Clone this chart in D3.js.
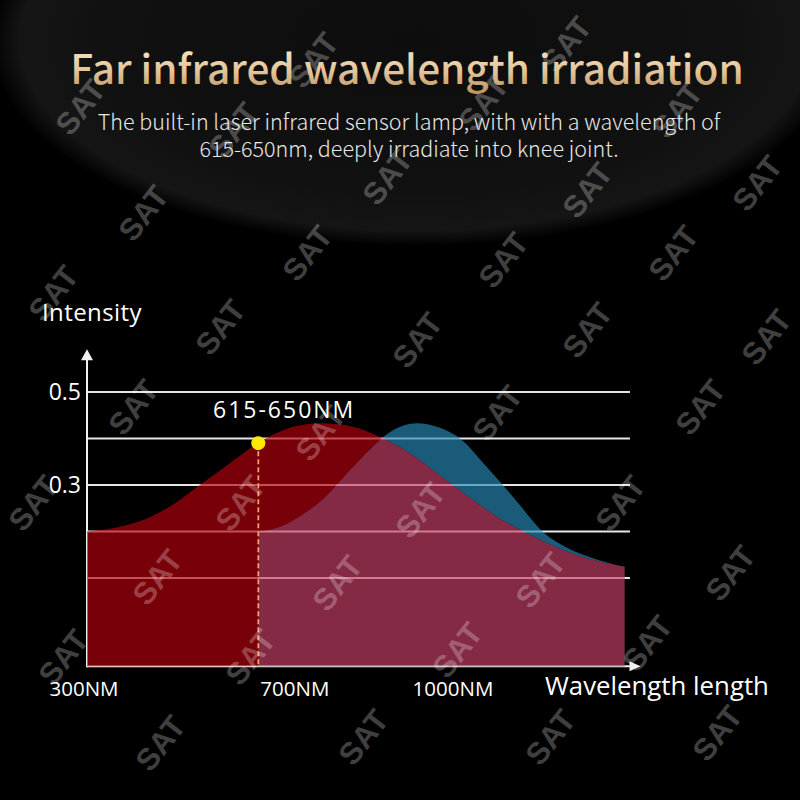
<!DOCTYPE html>
<html><head><meta charset="utf-8">
<script src="https://cdn.jsdelivr.net/npm/d3@7"></script>
<style>html,body{margin:0;padding:0;background:#000;} svg{display:block;}</style>
</head><body>
<script>
// ---- data ----
const redWavelengths = [300, 362, 420, 467, 514, 571, 624, 685, 742, 799, 856, 913, 970, 1027, 1083, 1146, 1211, 1273, 1320];
const redIntensity   = [0.200, 0.210, 0.231, 0.261, 0.300, 0.347, 0.390, 0.423, 0.433, 0.427, 0.403, 0.368, 0.320, 0.272, 0.228, 0.190, 0.157, 0.135, 0.125];
const blueWavelengths = [625, 666, 704, 752, 799, 837, 875, 926, 970, 1011, 1055, 1089, 1121, 1165, 1211, 1264, 1320];
const blueIntensity   = [0.199, 0.210, 0.233, 0.274, 0.332, 0.377, 0.414, 0.433, 0.423, 0.397, 0.343, 0.300, 0.257, 0.199, 0.165, 0.141, 0.124];
const gridValues = [0.1, 0.2, 0.3, 0.4, 0.5];
const yTickValues = [0.5, 0.3];
const yTickLabels = ["0.5", "0.3"];
const xTickValues = [300, 700, 1000];
const xTickLabels = ["300NM", "700NM", "1000NM"];
const markerWavelength = 625;
const markerIntensity = 0.390;
const markerLabel = "615-650NM";
const titleText = "Far infrared wavelength irradiation";
const subtitleLines = ["The built-in laser infrared sensor lamp, with with a wavelength of", "615-650nm, deeply irradiate into knee joint."];
const yAxisTitle = "Intensity";
const xAxisTitle = "Wavelength length";
const watermarkText = "SAT";
const watermarkCenters = [
  [566,44],[313,60],[80,107],[233,130],[483,103],[677,110],
  [387,177],[587,190],[757,183],
  [143,213],[307,253],[503,260],[673,253],
  [53,293],[220,327],[417,340],[587,330],[766,337],
  [133,407],[320,433],[497,413],[700,407],
  [33,503],[240,503],[420,510],[620,503],
  [157,577],[337,583],[540,580],[730,573],
  [63,657],[250,657],[457,650],[647,643],
  [160,743],[363,737],[550,737],[717,733]
];

// ---- layout ----
const W = 800, H = 800;
const x = d3.scaleLinear().domain([300, 1000]).range([87, 456]);
const y = d3.scaleLinear().domain([0.3, 0.5]).range([485, 392]);
const yBase = -0.09, yTop = 0.592, xEnd = 1350, gridEnd = 1330;

const svg = d3.select("body").append("svg").attr("width", W).attr("height", H);
const defs = svg.append("defs");

// background
svg.append("rect").attr("width", W).attr("height", H).attr("fill", "#000");
const rg = defs.append("radialGradient").attr("id", "bgGlow")
  .attr("cx", 0.5).attr("cy", 0.5).attr("r", 0.5);
rg.append("stop").attr("offset", "0%").attr("stop-color", "#0d0d0d");
rg.append("stop").attr("offset", "75%").attr("stop-color", "#111");
rg.append("stop").attr("offset", "93%").attr("stop-color", "#151515");
rg.append("stop").attr("offset", "100%").attr("stop-color", "#020202");
svg.append("ellipse").attr("cx", 416).attr("cy", 40).attr("rx", 425).attr("ry", 205).attr("fill", "url(#bgGlow)");

// gridlines
const g = svg.append("g");
g.selectAll("line.grid").data(gridValues).join("line")
  .attr("x1", x(300)).attr("x2", x(gridEnd))
  .attr("y1", d => y(d)).attr("y2", d => y(d))
  .attr("stroke", "#e6e6e6").attr("stroke-width", 2);

// axes
const x0 = x(300), yb = y(yBase);
g.append("line").attr("x1", x0).attr("x2", x0).attr("y1", yb + 1).attr("y2", y(yTop) + 8)
  .attr("stroke", "#f0f0f0").attr("stroke-width", 2);
g.append("path").attr("d", `M${x0},${y(yTop)} L${x0-6},${y(yTop)+11} L${x0+6},${y(yTop)+11} Z`).attr("fill", "#f0f0f0");
g.append("line").attr("x1", x0).attr("x2", x(xEnd) - 9).attr("y1", yb).attr("y2", yb)
  .attr("stroke", "#f0f0f0").attr("stroke-width", 2);
g.append("path").attr("d", `M${x(xEnd)},${yb} L${x(xEnd)-11},${yb-5} L${x(xEnd)-11},${yb+5} Z`).attr("fill", "#f0f0f0");

// areas
const redData = redWavelengths.map((w, i) => [w, redIntensity[i]]);
const blueData = blueWavelengths.map((w, i) => [w, blueIntensity[i]]);
const area = d3.area().x(d => x(d[0])).y0(yb).y1(d => y(d[1])).curve(d3.curveMonotoneX);
const redPath = area(redData), bluePath = area(blueData);

defs.append("clipPath").attr("id", "redClip").append("path").attr("d", redPath);
const mNotBlue = defs.append("mask").attr("id", "notBlue");
mNotBlue.append("rect").attr("width", W).attr("height", H).attr("fill", "#fff");
mNotBlue.append("path").attr("d", bluePath).attr("fill", "#000");
const mNotRed = defs.append("mask").attr("id", "notRed");
mNotRed.append("rect").attr("width", W).attr("height", H).attr("fill", "#fff");
mNotRed.append("path").attr("d", redPath).attr("fill", "#000");

const A = 0.66;
svg.append("path").attr("d", redPath).attr("mask", "url(#notBlue)")
  .attr("fill", "rgb(182,0,12)").attr("fill-opacity", A);
svg.append("path").attr("d", bluePath).attr("mask", "url(#notRed)")
  .attr("fill", "rgb(40,138,184)").attr("fill-opacity", A);
svg.append("path").attr("d", bluePath).attr("clip-path", "url(#redClip)")
  .attr("fill", "rgb(200,64,105)").attr("fill-opacity", A);

// marker
const mx = x(markerWavelength), my = y(markerIntensity);
svg.append("line").attr("x1", mx).attr("x2", mx).attr("y1", my).attr("y2", yb)
  .attr("stroke", "#f3a064").attr("stroke-width", 1.8).attr("stroke-dasharray", "5,3");
svg.append("circle").attr("cx", mx).attr("cy", my).attr("r", 7).attr("fill", "#ffe800");

// watermarks
svg.append("g").selectAll("text").data(watermarkCenters).join("text")
  .attr("transform", d => `translate(${d[0]},${d[1]}) rotate(-52)`)
  .attr("text-anchor", "middle").attr("dy", "0.36em")
  .attr("font-family", "'Liberation Sans', Arial, sans-serif").attr("font-weight", "bold")
  .attr("font-size", 31).attr("fill", "#fff").attr("fill-opacity", 0.26)
  .text(watermarkText);

// texts
const lab = "'Open Sans', 'Noto Sans', sans-serif";
svg.append("text").attr("x", 42).attr("y", 321).attr("font-family", lab).attr("font-size", 24)
  .attr("letter-spacing", 0.4).attr("fill", "#fff").text(yAxisTitle);
svg.selectAll("text.yt").data(yTickValues).join("text").attr("class", "yt")
  .attr("x", 81).attr("y", d => y(d) + 8).attr("text-anchor", "end")
  .attr("font-family", lab).attr("font-size", 23).attr("fill", "#fff")
  .text((d, i) => yTickLabels[i]);
svg.selectAll("text.xt").data(xTickValues).join("text").attr("class", "xt")
  .attr("x", d => x(d) - 3).attr("y", 696).attr("text-anchor", "middle")
  .attr("font-family", lab).attr("font-size", 20.5).attr("fill", "#fff")
  .text((d, i) => xTickLabels[i]);
svg.append("text").attr("x", 545).attr("y", 695).attr("font-family", lab).attr("font-size", 25.8)
  .attr("fill", "#fff").text(xAxisTitle);
svg.append("text").attr("x", 213).attr("y", 418).attr("font-family", lab).attr("font-size", 23)
  .attr("letter-spacing", 2).attr("fill", "#fff").text(markerLabel);

// title
const tg = defs.append("linearGradient").attr("id", "gold")
  .attr("gradientUnits", "userSpaceOnUse").attr("x1", 0).attr("y1", 48).attr("x2", 0).attr("y2", 92);
tg.append("stop").attr("offset", "0%").attr("stop-color", "#f7e4c3");
tg.append("stop").attr("offset", "55%").attr("stop-color", "#e2c397");
tg.append("stop").attr("offset", "100%").attr("stop-color", "#c09560");
svg.append("text").attr("x", 407).attr("y", 84).attr("text-anchor", "middle")
  .attr("font-family", "'Noto Sans CJK SC', sans-serif").attr("font-weight", 500)
  .attr("font-size", 40.5).attr("fill", "url(#gold)").text(titleText);
const sub = svg.append("text").attr("text-anchor", "middle")
  .attr("font-family", "'Noto Sans CJK SC', sans-serif").attr("font-weight", 300)
  .attr("font-size", 21.5).attr("fill", "#e8e8e8");
sub.selectAll("tspan").data(subtitleLines).join("tspan")
  .attr("x", 409).attr("y", (d, i) => 130 + i * 27).text(d => d);
</script>
</body></html>
